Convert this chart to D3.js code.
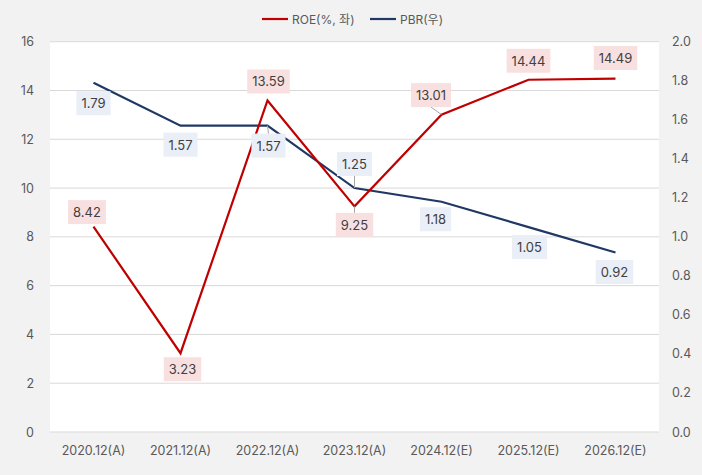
<!DOCTYPE html>
<html><head><meta charset="utf-8">
<script src="https://cdn.jsdelivr.net/npm/d3@7"></script>
<style>
html,body{margin:0;padding:0;background:#f2f2f2;}
svg{display:block;font-family:Inter,"Noto Sans CJK KR","Noto Sans",sans-serif;}
</style></head>
<body>
<script>
const categories = ["2020.12(A)","2021.12(A)","2022.12(A)","2023.12(A)","2024.12(E)","2025.12(E)","2026.12(E)"];
const roe = [8.42, 3.23, 13.59, 9.25, 13.01, 14.44, 14.49];
const pbr = [1.79, 1.57, 1.57, 1.25, 1.18, 1.05, 0.92];
const leftTicks = [0,2,4,6,8,10,12,14,16];
const rightTicks = [0,0.2,0.4,0.6,0.8,1.0,1.2,1.4,1.6,1.8,2.0];
const seriesNames = ["ROE(%, 좌)", "PBR(우)"];

const W = 702, H = 475;
const plot = {l:50, r:659, t:41.7, b:432};
const svg = d3.select("body").append("svg").attr("width",W).attr("height",H);
svg.append("rect").attr("width",W).attr("height",H).attr("fill","#f2f2f2");
svg.append("rect").attr("x",plot.l).attr("y",plot.t).attr("width",plot.r-plot.l).attr("height",plot.b-plot.t).attr("fill","#ffffff");

const x = d3.scaleBand().domain(categories).range([plot.l, plot.r]);
const cx = c => x(c) + x.bandwidth()/2;
const yL = d3.scaleLinear().domain([0,16]).range([plot.b, plot.t]);
const yR = d3.scaleLinear().domain([0,2]).range([plot.b, plot.t]);

// gridlines
svg.append("g").selectAll("line").data(leftTicks).join("line")
  .attr("x1",plot.l).attr("x2",plot.r).attr("y1",d=>yL(d)).attr("y2",d=>yL(d))
  .attr("stroke","#d9d9d9").attr("stroke-width",1);

// axes
const axL = svg.append("g").attr("transform",`translate(${plot.l},0)`)
  .call(d3.axisLeft(yL).tickValues(leftTicks).tickSize(0).tickPadding(16).tickFormat(d3.format("d")));
const axR = svg.append("g").attr("transform",`translate(${plot.r},0)`)
  .call(d3.axisRight(yR).tickValues(rightTicks).tickSize(0).tickPadding(13).tickFormat(d3.format(".1f")));
const axB = svg.append("g").attr("transform",`translate(0,${plot.b})`)
  .call(d3.axisBottom(x).tickSize(0).tickPadding(14));
[axL,axR,axB].forEach(a=>{
  a.select(".domain").remove();
  a.selectAll("text").attr("fill","#595959").style("font-size","12.5px").style("font-family","Inter,sans-serif");
});

const roeColor = "#c00000", pbrColor = "#1f3864";

const line = (ys, vals) => d3.line().x((d,i)=>cx(categories[i])).y(d=>ys(d))(vals);
svg.append("path").attr("d",line(yR,pbr)).attr("fill","none").attr("stroke",pbrColor).attr("stroke-width",2.2);
svg.append("path").attr("d",line(yL,roe)).attr("fill","none").attr("stroke",roeColor).attr("stroke-width",2.2);

// label placement (offsets from point, in px)
const roeOff = [[-6.5,-14.5],[2,16],[1,-19],[0,18.5],[-10.5,-19.5],[0,-19],[0,-20.5]];
const pbrOff = [[0,20.5],[0,19],[1,20],[0,-24],[-6,17.5],[1,20],[-1,19.5]];
const roeLeader = [false,false,false,true,true,false,false];
const pbrLeader = [false,false,true,true,false,false,false];

function labels(vals, ys, offs, leaders, bg, fmt){
  const g = svg.append("g");
  vals.forEach((v,i)=>{
    const px = cx(categories[i]), py = ys(v);
    const lx = px + offs[i][0], ly = py + offs[i][1];
    const txt = fmt(v);
    const t = g.append("text").attr("x",lx).attr("y",ly).attr("text-anchor","middle")
      .attr("dominant-baseline","central").attr("fill","#404040")
      .style("font-size","13px").style("font-family","Inter,sans-serif").text(txt);
    const bb = t.node().getBBox();
    const bw = bb.width + 10, bh = 24;
    if (leaders[i]) {
      const edgeY = offs[i][1] > 0 ? ly - bh/2 : ly + bh/2;
      g.insert("line", "text").attr("x1",px).attr("y1",py).attr("x2",lx).attr("y2",edgeY)
        .attr("stroke","#a6a6a6").attr("stroke-width",1);
    }
    g.insert("rect","text").attr("x",lx-bw/2).attr("y",ly-bh/2).attr("width",bw).attr("height",bh).attr("fill",bg);
  });
}
labels(pbr, yR, pbrOff, pbrLeader, "#e9eef7", d3.format(".2f"));
labels(roe, yL, roeOff, roeLeader, "#f9e0e0", d3.format(".2f"));

// legend
const leg = svg.append("g").style("font-family","Inter,'Noto Sans CJK KR',sans-serif");
const legItems = [{name:seriesNames[0], color:roeColor, x:262},{name:seriesNames[1], color:pbrColor, x:370}];
legItems.forEach(it=>{
  leg.append("line").attr("x1",it.x).attr("x2",it.x+26).attr("y1",19).attr("y2",19).attr("stroke",it.color).attr("stroke-width",2.2);
  leg.append("text").attr("x",it.x+30).attr("y",19).attr("dominant-baseline","central")
    .attr("fill","#595959").style("font-size","12px").text(it.name);
});
</script>
</body></html>
